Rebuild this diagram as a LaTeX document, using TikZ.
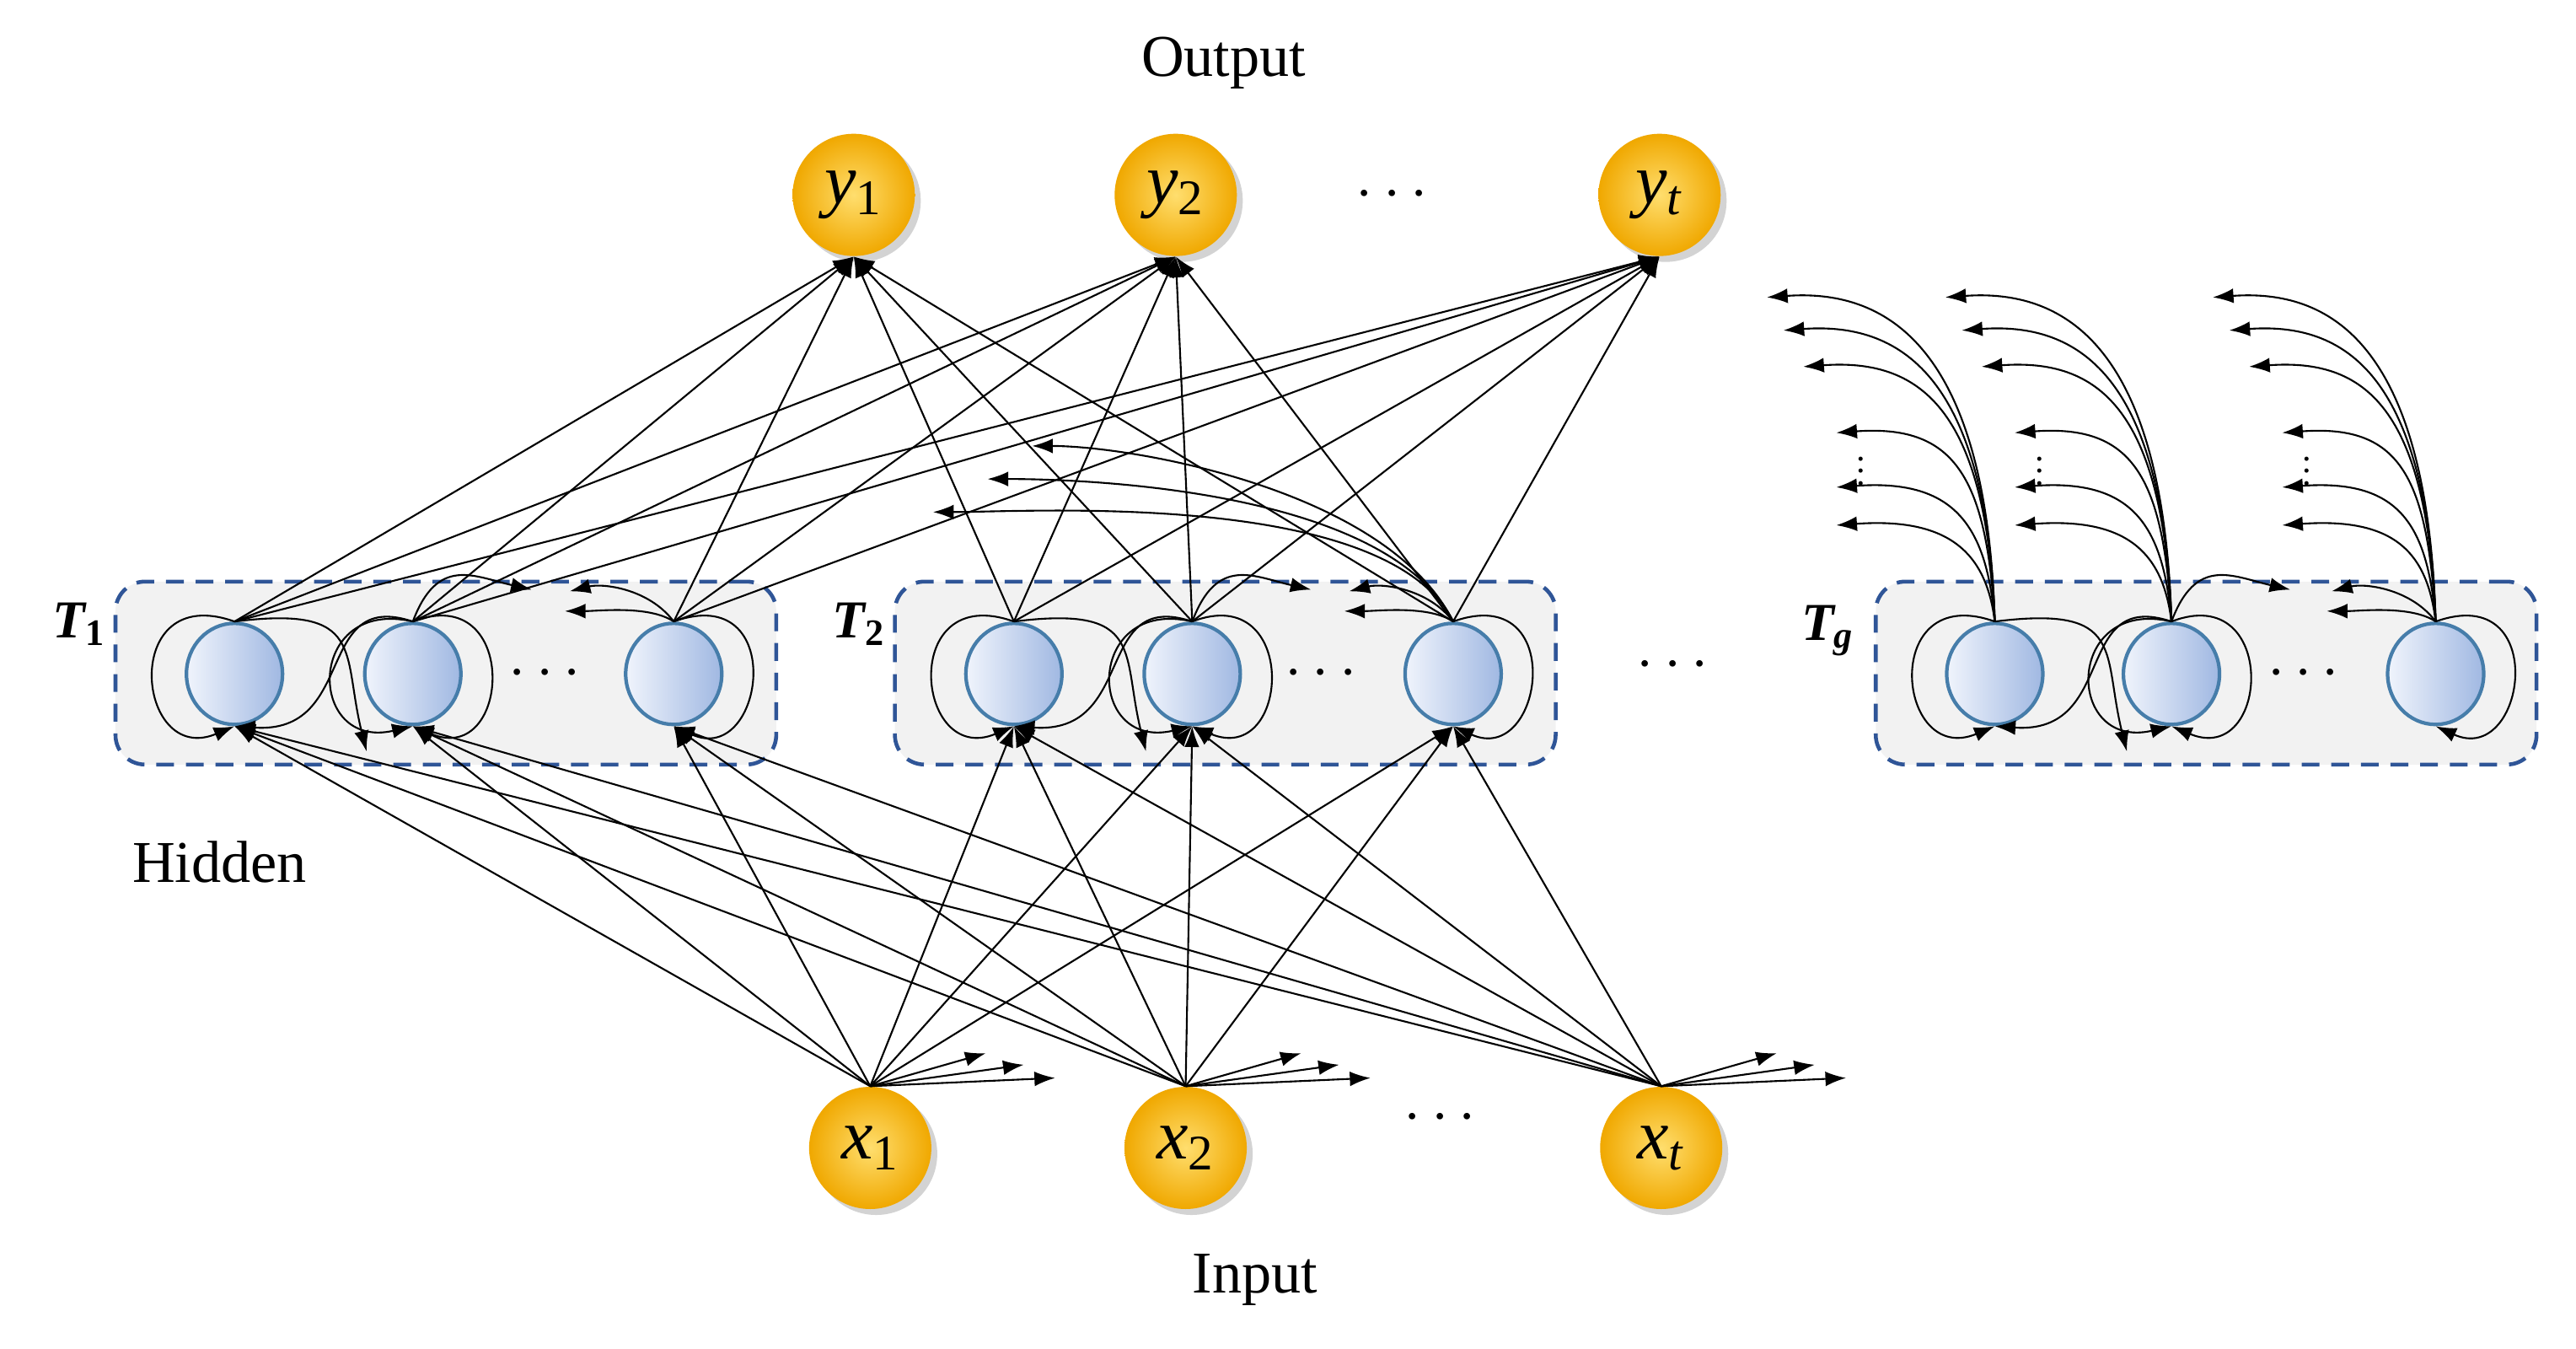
\documentclass[tikz,border=0pt]{standalone}
\usepackage{fontspec}
\setmainfont{Liberation Serif}
\usetikzlibrary{arrows.meta,shadows,calc,shapes.geometric}
\definecolor{gin}{RGB}{255,222,110}
\definecolor{gout}{RGB}{240,168,0}
\definecolor{hl}{RGB}{240,244,252}
\definecolor{hr}{RGB}{160,184,226}
\definecolor{hb}{RGB}{70,125,170}
\definecolor{bx}{RGB}{47,85,151}
\tikzset{
  io/.style={circle,minimum size=1.45cm,inner sep=0pt,inner color=gin,outer color=gout,
     drop shadow={shadow xshift=2pt,shadow yshift=-2pt,opacity=.35},font=\fontsize{24}{28}\selectfont},
  hid/.style={ellipse,minimum width=1.14cm,minimum height=1.2cm,inner sep=0pt,left color=hl,right color=hr,draw=hb,line width=1.2pt},
  box/.style={draw=bx,dashed,dash pattern=on 6pt off 4pt,line width=1.3pt,fill=black!5,rounded corners=10pt,minimum width=7.84cm,minimum height=2.17cm},
  lbl/.style={font=\fontsize{20}{24}\selectfont},
  tl/.style={font=\fontsize{18}{22}\selectfont\bfseries\itshape},
  ar/.style={-{Latex[length=7pt,width=5pt]},line width=0.6pt},
}
\begin{document}
\begin{tikzpicture}[x=0.01959cm,y=-0.01959cm]
\useasboundingbox (0,0) rectangle (1560,816.7);
% boxes
\node[box] (B1) at (270,407.5) {};
\node[box] (B2) at (742,407.5) {};
\node[box] (B3) at (1336,407.5) {};
\node[tl] (L1) at (48,378) {T\textsubscript{\upshape 1}};
\node[tl] (L2) at (520,378) {T\textsubscript{\upshape 2}};
\node[tl] (L3) at (1107,382) {T\textsubscript{g}};
\node[lbl] (hidden) at (133,522) {Hidden};
\node[lbl] (output) at (741,38) {Output};
\node[lbl] (input) at (760,775) {Input};
% io nodes
\node[io] (y1) at (517,118) {\textit{y}\textsubscript{1}};
\node[io] (y2) at (712,118) {\textit{y}\textsubscript{2}};
\node[io] (yt) at (1005,118) {\textit{y}\textsubscript{\textit{t}}};
\node[lbl] (yd) at (843,118) {$\cdots$};
\node[io] (x1) at (527,695) {\textit{x}\textsubscript{1}};
\node[io] (x2) at (718,695) {\textit{x}\textsubscript{2}};
\node[io] (xt) at (1006,695) {\textit{x}\textsubscript{\textit{t}}};
\node[lbl] (xd) at (872,677) {$\cdots$};
\node[lbl] (md) at (1013,403) {$\cdots$};
% hidden nodes
\foreach \g/\a/\b/\c/\d in {a/142/250/408/330, b/614/722/880/800, c/1208/1315/1475/1395}{
  \node[hid] (\g1) at (\a,408) {};
  \node[hid] (\g2) at (\b,408) {};
  \node[hid] (\g3) at (\c,408) {};
  \node[lbl] (\g d) at (\d,408) {$\cdots$};
}
% hidden -> output
\foreach \h in {a1,a2,a3,b1,b2,b3}{
  \foreach \y in {y1,y2,yt}{
    \draw[ar] (\h.north) -- (\y.south);
  }
}
% input -> hidden
\foreach \x in {x1,x2,xt}{
  \foreach \h in {a1,a2,a3,b1,b2,b3}{
    \draw[ar] (\x.north) -- (\h.south);
  }
}
% input stubs
\foreach \x in {x1,x2,xt}{
  \coordinate (\x s1) at ($(\x.north)+(70,-20)$);
  \coordinate (\x s2) at ($(\x.north)+(93,-13)$);
  \coordinate (\x s3) at ($(\x.north)+(112,-5)$);
  \foreach \s in {1,2,3}{\draw[ar] (\x.north) -- (\x s\s);}
}
% recurrent loops in each group
\foreach \g in {a,b,c}{
  \coordinate (\g st) at ($(\g1)+(80,47)$);
  \coordinate (\g ra) at ($(\g2)+(72,-51)$);
  \coordinate (\g la) at ($(\g3)+(-63,-50)$);
  \coordinate (\g lb) at ($(\g3)+(-66,-38)$);
  \draw[ar] (\g1.north) .. controls +(-70,-25) and +(-60,25) .. (\g1.south);
  \draw[ar] (\g1.north) .. controls +(80,-10) and +(-15,-60) .. (\g st);
  \draw[ar] (\g2.north) .. controls +(-60,-20) and +(75,5) .. (\g1.south);
  \draw[ar] (\g2.north) .. controls +(-65,-15) and +(-65,15) .. (\g2.south);
  \draw[ar] (\g2.north) .. controls +(65,-25) and +(60,25) .. (\g2.south);
  \draw[ar] (\g2.north) .. controls +(15,-40) and +(-35,-8) .. (\g ra);
  \draw[ar] (\g3.north) .. controls +(70,-25) and +(55,25) .. (\g3.south);
  \draw[ar] (\g3.north) .. controls +(-15,-20) and +(20,-5) .. (\g la);
  \draw[ar] (\g3.north) .. controls +(-15,-10) and +(20,0) .. (\g lb);
}
% T2 feedback arcs
\coordinate (f1) at (625,270);
\coordinate (f2) at (598,290);
\coordinate (f3) at (565,310);
\foreach \f in {f1,f2,f3}{\draw[ar] (b3.north) .. controls +(-40,-80) and +(60,0) .. (\f);}
% Tg outgoing arcs
\foreach \n/\o in {c1/0,c2/108,c3/270}{
  \foreach \ex/\ey/\h in {1070/180/170,1080/200/150,1092/222/130,1112/262/90,1112/295/60,1112/318/40}{
    \coordinate (e\n\ex) at (\ex+\o,\ey);
    \draw[ar] (\n.north) .. controls +(-5,-\h) and +(70,-5) .. (e\n\ex);
  }
  \node[font=\fontsize{12}{12}\selectfont,inner sep=0pt] (v\n) at (1127+\o,280) {$\vdots$};
}
\end{tikzpicture}
\end{document}
